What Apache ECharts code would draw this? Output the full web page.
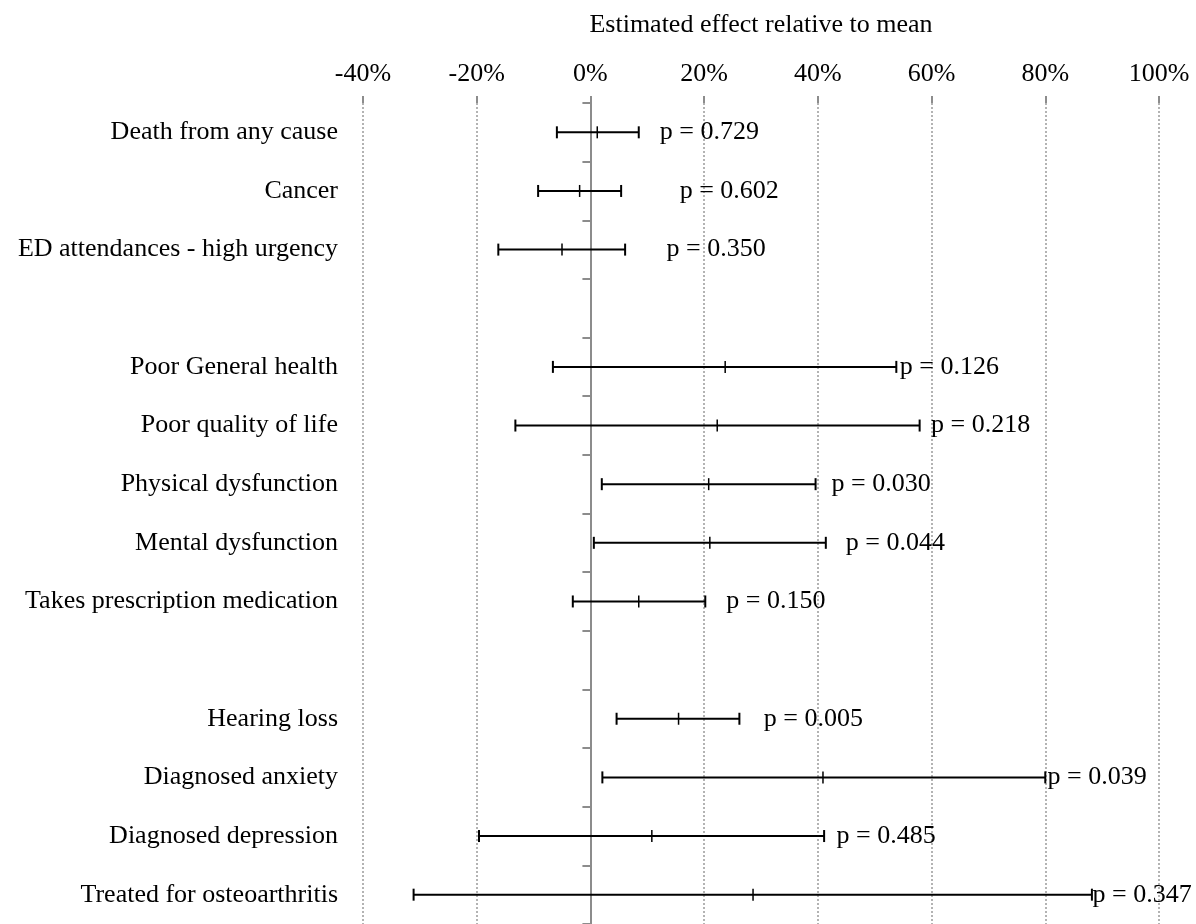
<!DOCTYPE html>
<html>
<head>
<meta charset="utf-8">
<script src="https://cdn.jsdelivr.net/npm/echarts@6/dist/echarts.min.js"></script>
<style>
  html, body { margin: 0; padding: 0; background: #fff; }
  #chart { width: 1196px; height: 924px; }
</style>
</head>
<body>
<div id="chart"></div>
<script>
// outcomes, top to bottom ('' = empty spacer row)
const categories = [
    'Death from any cause', 'Cancer', 'ED attendances - high urgency', '',
    'Poor General health', 'Poor quality of life', 'Physical dysfunction',
    'Mental dysfunction', 'Takes prescription medication', '',
    'Hearing loss', 'Diagnosed anxiety', 'Diagnosed depression', 'Treated for osteoarthritis'
]
// estimated effect relative to mean (%), with lower / upper CI
const lowValues  = [-5.9, -9.2, -16.2, null, -6.6, -13.2, 2.0, 0.6, -3.1, null, 4.6, 2.1, -19.6, -31.1]
const estValues  = [1.2, -1.9, -5.0, null, 23.7, 22.3, 20.8, 21.0, 8.5, null, 15.5, 40.9, 10.8, 28.6]
const highValues = [8.5, 5.4, 6.1, null, 53.8, 57.9, 39.6, 41.4, 20.2, null, 26.2, 80.0, 41.1, 88.2]
const pValues    = ['0.729', '0.602', '0.350', null, '0.126', '0.218', '0.030', '0.044', '0.150', null, '0.005', '0.039', '0.485', '0.347']
// where each p label starts (% on the x axis)
const pLabelAt   = [12.2, 15.7, 13.4, null, 54.4, 59.9, 42.4, 44.9, 23.9, null, 30.5, 80.4, 43.3, 88.3]
const xTicks = { min: -40, max: 100, step: 20 }

const serif = 'Liberation Serif'
const axisGrey = '#8c8c8c'
const fs = 26

const ciData = []
const pData = []
categories.forEach((c, i) => {
    if (lowValues[i] == null) return
    ciData.push([i, lowValues[i], estValues[i], highValues[i]])
    pData.push({ value: [pLabelAt[i], i], p: pValues[i] })
})

// error bar: whisker line, end caps and a tick at the estimate
const renderCI = (params, api) => {
    const y = api.value(0)
    const lo = api.coord([api.value(1), y])
    const mid = api.coord([api.value(2), y])
    const hi = api.coord([api.value(3), y])
    const cap = 6
    const seg = (x1, y1, x2, y2, w) => ({
        type: 'line',
        shape: { x1, y1, x2, y2 },
        style: { stroke: '#000', lineWidth: w }
    })
    return {
        type: 'group',
        children: [
            seg(lo[0], lo[1], hi[0], hi[1], 2),
            seg(lo[0], lo[1] - cap, lo[0], lo[1] + cap, 2),
            seg(hi[0], hi[1] - cap, hi[0], hi[1] + cap, 2),
            seg(mid[0], mid[1] - cap, mid[0], mid[1] + cap, 1.5)
        ]
    }
}

const chart = echarts.init(document.getElementById('chart'))
chart.setOption({
    animation: false,
    backgroundColor: '#fff',
    textStyle: { fontFamily: serif },
    grid: { left: 363, right: 37, top: 103, bottom: -4, containLabel: false },
    xAxis: {
        type: 'value',
        position: 'top',
        min: xTicks.min,
        max: xTicks.max,
        interval: xTicks.step,
        name: 'Estimated effect relative to mean',
        nameLocation: 'middle',
        nameGap: 65,
        nameTextStyle: { color: '#000', fontSize: fs, fontFamily: serif },
        axisLine: { onZero: false, lineStyle: { color: axisGrey, width: 2 } },
        axisTick: { show: true, length: 7, lineStyle: { color: axisGrey, width: 2 } },
        axisLabel: { color: '#000', fontSize: fs, fontFamily: serif, margin: 16, formatter: '{value}%' },
        splitLine: { show: true, lineStyle: { color: '#9a9a9a', width: 1.5, type: [2, 2] } }
    },
    yAxis: [{
        type: 'category',
        data: categories,
        inverse: true,
        position: 'left',
        axisLine: { show: false, onZero: false },
        axisTick: { show: false },
        axisLabel: { color: '#000', fontSize: fs, fontFamily: serif, margin: 25 }
    }, {
        type: 'category',
        data: categories,
        inverse: true,
        position: 'left',
        axisLine: { show: true, onZero: true, lineStyle: { color: axisGrey, width: 2 } },
        axisTick: { show: true, length: 8, lineStyle: { color: axisGrey, width: 2 } },
        axisLabel: { show: false },
        splitLine: { show: false }
    }],
    series: [{
        type: 'custom',
        renderItem: renderCI,
        encode: { x: [1, 2, 3], y: 0 },
        data: ciData,
        z: 5
    }, {
        type: 'scatter',
        symbolSize: 0,
        itemStyle: { opacity: 1 },
        data: pData,
        label: {
            show: true,
            position: 'right',
            distance: 0,
            color: '#000',
            fontSize: fs,
            fontFamily: serif,
            formatter: (p) => 'p = ' + p.data.p
        },
        z: 6
    }]
})
</script>
</body>
</html>
